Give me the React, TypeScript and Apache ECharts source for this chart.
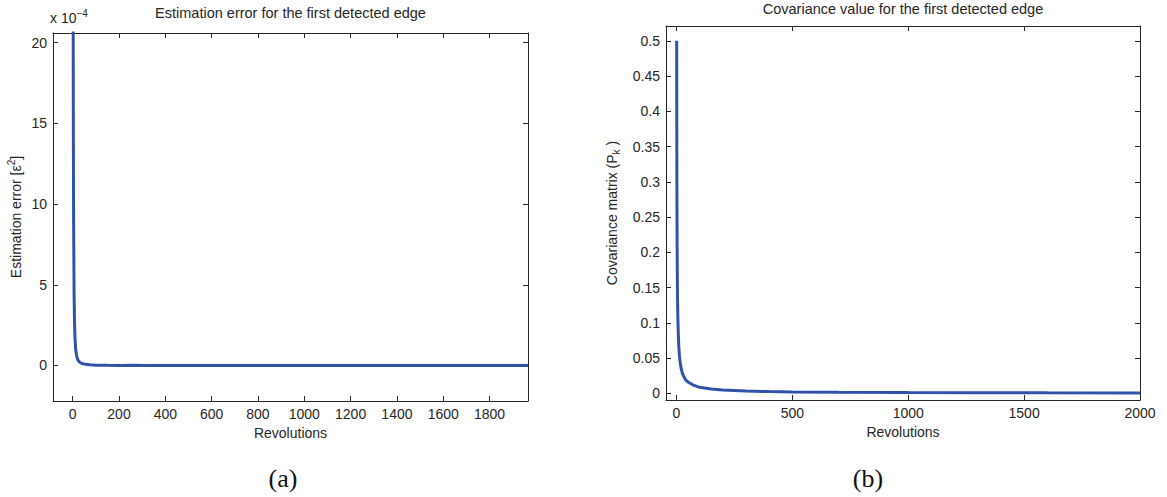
import React, { useEffect, useRef } from "react";
import * as echarts from "echarts";

// Chart (a): estimation error (x 10^-4)
const xA = [1, 2, 3, 4, 6, 8, 10, 13, 17, 22, 30, 40, 55, 75, 100, 150, 200, 260, 320, 400, 480, 600, 900, 1200, 1500, 1800, 1966];
const yA = [40, 22, 14, 9, 4.5, 2.6, 1.7, 1.0, 0.6, 0.35, 0.2, 0.12, 0.07, 0.04, 0.02, 0.01, 0.005, 0.008, 0.004, 0.006, 0.003, 0, 0, 0, 0, 0, 0];
const xTicksA = [0, 200, 400, 600, 800, 1000, 1200, 1400, 1600, 1800];
const yTicksA = [0, 5, 10, 15, 20];

// Chart (b): covariance value
const xB = [1, 2, 3, 4, 5, 6, 8, 10, 13, 16, 20, 25, 30, 40, 50, 70, 100, 150, 200, 300, 400, 500, 700, 1000, 1300, 1600, 2000];
const yB = [0.5, 0.3, 0.21, 0.16, 0.13, 0.11, 0.085, 0.068, 0.053, 0.044, 0.036, 0.029, 0.025, 0.019, 0.016, 0.012, 0.0085, 0.006, 0.0046, 0.0032, 0.0025, 0.002, 0.0015, 0.0011, 0.0009, 0.0007, 0.0006];
const xTicksB = [0, 500, 1000, 1500, 2000];
const yTicksB = [0, 0.05, 0.1, 0.15, 0.2, 0.25, 0.3, 0.35, 0.4, 0.45, 0.5];

const FONT = "Liberation Sans, Arial, sans-serif";
const LINE = "#3152aa";
const AX = "#262626";
const FS = 14;

function axisCommon(ticks: number[], min: number, max: number, showLabel: boolean, pos: string) {
  return {
    type: "value",
    min,
    max,
    position: pos,
    axisLine: { show: true, onZero: false, lineStyle: { color: AX, width: 1 } },
    axisTick: { show: true, inside: true, length: 5, customValues: ticks, lineStyle: { color: AX } },
    axisLabel: {
      show: showLabel,
      customValues: ticks,
      formatter: (v: number) => String(v),
      color: AX,
      fontFamily: FONT,
      fontSize: FS,
      margin: 6,
    },
    splitLine: { show: false },
  };
}

export default function App() {
  const ref = useRef<HTMLDivElement>(null);
  useEffect(() => {
    if (!ref.current) return;
    const chart = echarts.init(ref.current, null, { renderer: "svg" });
    const gA = { left: 53, top: 33, width: 475, height: 368 };
    const gB = { left: 666, top: 26, width: 474, height: 374 };
    const xMinA = -85, xMaxA = 1966, yMinA = -2.2, yMaxA = 20.6;
    const xMinB = -45, xMaxB = 2000, yMinB = -0.0095, yMaxB = 0.521;

    const option: any = {
      animation: false,
      backgroundColor: "#ffffff",
      textStyle: { fontFamily: FONT },
      grid: [
        { ...gA, containLabel: false },
        { ...gB, containLabel: false },
      ],
      xAxis: [
        {
          ...axisCommon(xTicksA, xMinA, xMaxA, true, "bottom"),
          gridIndex: 0,
          name: "Revolutions",
          nameLocation: "middle",
          nameGap: 23,
          nameTextStyle: { color: AX, fontFamily: FONT, fontSize: FS },
        },
        { ...axisCommon(xTicksA, xMinA, xMaxA, false, "top"), gridIndex: 0 },
        {
          ...axisCommon(xTicksB, xMinB, xMaxB, true, "bottom"),
          gridIndex: 1,
          name: "Revolutions",
          nameLocation: "middle",
          nameGap: 23,
          nameTextStyle: { color: AX, fontFamily: FONT, fontSize: FS },
        },
        { ...axisCommon(xTicksB, xMinB, xMaxB, false, "top"), gridIndex: 1 },
      ],
      yAxis: [
        {
          ...axisCommon(yTicksA, yMinA, yMaxA, true, "left"),
          gridIndex: 0,
          name: "Estimation error [ε{sup|2}]",
          nameLocation: "middle",
          nameGap: 28,
          nameTextStyle: {
            color: AX,
            fontFamily: FONT,
            fontSize: FS,
            lineHeight: 19,
            rich: { sup: { fontSize: 10, lineHeight: 10, verticalAlign: "top", color: AX, fontFamily: FONT } },
          },
        },
        { ...axisCommon(yTicksA, yMinA, yMaxA, false, "right"), gridIndex: 0 },
        {
          ...axisCommon(yTicksB, yMinB, yMaxB, true, "left"),
          gridIndex: 1,
          name: "Covariance matrix (P{sub|k} )",
          nameLocation: "middle",
          nameGap: 45,
          nameTextStyle: {
            color: AX,
            fontFamily: FONT,
            fontSize: FS,
            lineHeight: 19,
            rich: { sub: { fontSize: 10, lineHeight: 10, verticalAlign: "bottom", color: AX, fontFamily: FONT } },
          },
        },
        { ...axisCommon(yTicksB, yMinB, yMaxB, false, "right"), gridIndex: 1 },
      ],
      series: [
        {
          type: "line",
          xAxisIndex: 0,
          yAxisIndex: 0,
          data: xA.map((x, i) => [x, yA[i]]),
          showSymbol: false,
          clip: true,
          lineStyle: { color: LINE, width: 3 },
          smooth: false,
        },
        {
          type: "line",
          xAxisIndex: 2,
          yAxisIndex: 2,
          data: xB.map((x, i) => [x, yB[i]]),
          showSymbol: false,
          clip: true,
          lineStyle: { color: LINE, width: 3 },
          smooth: false,
        },
      ],
      graphic: [
        {
          type: "text",
          x: gA.left + gA.width / 2,
          y: 5,
          style: {
            text: "Estimation error for the first detected edge",
            fill: AX,
            font: `14.5px ${FONT}`,
            textAlign: "center",
          },
        },
        {
          type: "text",
          x: gB.left + gB.width / 2,
          y: 1,
          style: {
            text: "Covariance value for the first detected edge",
            fill: AX,
            font: `14.5px ${FONT}`,
            textAlign: "center",
          },
        },
        {
          type: "text",
          x: 50,
          y: 8,
          style: {
            text: "x 10{sup|−4}",
            fill: AX,
            font: `14px ${FONT}`,
            lineHeight: 19,
            rich: { sup: { fontSize: 10, lineHeight: 10, verticalAlign: "top", fill: AX, fontFamily: FONT } },
          },
        },
        {
          type: "text",
          x: 283,
          y: 478,
          style: {
            text: "(a)",
            fill: "#111",
            font: `26px Liberation Serif, DejaVu Serif, serif`,
            textAlign: "center",
            textVerticalAlign: "middle",
          },
        },
        {
          type: "text",
          x: 868,
          y: 478,
          style: {
            text: "(b)",
            fill: "#111",
            font: `26px Liberation Serif, DejaVu Serif, serif`,
            textAlign: "center",
            textVerticalAlign: "middle",
          },
        },
      ],
    };
    chart.setOption(option);
    return () => chart.dispose();
  }, []);
  return (
    <div
      ref={ref}
      style={{ position: "fixed", left: 0, top: 0, width: 1167, height: 497, background: "#fff" }}
    />
  );
}
